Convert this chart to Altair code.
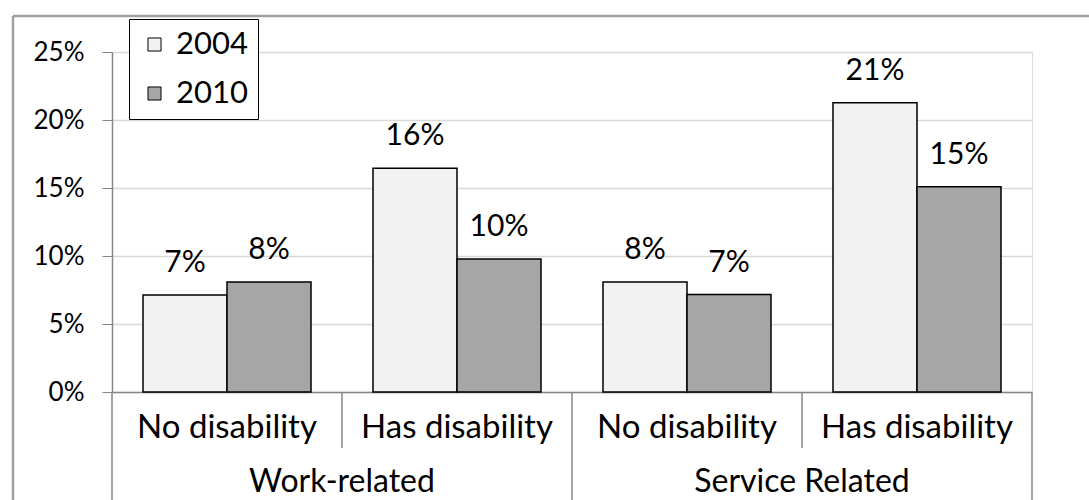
import altair as alt
import pandas as pd

groups = ["Work-related", "Work-related", "Service Related", "Service Related"]
subcats = ["No disability", "Has disability", "No disability", "Has disability"]
years = ["2004", "2010"]
v2004 = [0.0713, 0.1645, 0.0809, 0.2126]
v2010 = [0.0809, 0.0978, 0.0716, 0.1510]
colors = ["#f2f2f2", "#a6a6a6"]
y_ticks = [0, 0.05, 0.10, 0.15, 0.20, 0.25]

keys = [g + "|" + s for g, s in zip(groups, subcats)]

rows = []
for k, g, s, a, b in zip(keys, groups, subcats, v2004, v2010):
    rows.append({"key": k, "group": g, "sub": s, "year": years[0], "value": a})
    rows.append({"key": k, "group": g, "sub": s, "year": years[1], "value": b})
df = pd.DataFrame(rows)

cats = pd.DataFrame({"key": keys, "group": groups, "sub": subcats})
cats["first"] = [i == 0 or groups[i] != groups[i - 1] for i in range(len(groups))]
cats["last"] = [i == len(groups) - 1 for i in range(len(groups))]

W, H = 920, 340
FONT = "Lato"
GRAY = "#868686"

xaxis = alt.Axis(labels=False, ticks=False, title=None, domain=True,
                 domainColor=GRAY, domainWidth=1.5, grid=False)
xscale = alt.Scale(domain=keys, paddingInner=0, paddingOuter=0)


def xenc(band=None):
    if band is None:
        return alt.X("key:N", scale=xscale, axis=xaxis, sort=keys)
    return alt.X("key:N", scale=xscale, axis=xaxis, sort=keys, bandPosition=band)


xoff = alt.XOffset("year:N", scale=alt.Scale(domain=years, paddingOuter=0.369, paddingInner=0))
yenc = alt.Y("value:Q",
             scale=alt.Scale(domain=[0, 0.25], nice=False),
             axis=alt.Axis(values=y_ticks, format=".0%", title=None,
                           labelFont=FONT, labelFontSize=26, labelColor="black",
                           labelPadding=18, tickSize=10, tickColor=GRAY,
                           domainColor=GRAY, domainWidth=1.5,
                           gridColor="#d9d9d9", gridWidth=1.5))

bars = alt.Chart(df).mark_bar(stroke="black", strokeWidth=1.5).encode(
    x=xenc(),
    xOffset=xoff,
    y=yenc,
    color=alt.Color("year:N",
                    scale=alt.Scale(domain=years, range=colors),
                    legend=alt.Legend(
                        title=None, orient="none", legendX=17, legendY=-33,
                        fillColor="white", strokeColor="black",
                        padding=10, symbolType="square", symbolSize=170,
                        symbolStrokeColor="black", symbolStrokeWidth=1,
                        symbolOffset=0, labelOffset=6,
                        labelFont=FONT, labelFontSize=31, labelColor="black",
                        rowPadding=17)),
)

vals = alt.Chart(df).mark_text(font=FONT, fontSize=30, color="black",
                               baseline="alphabetic", dy=-23).encode(
    x=xenc(), xOffset=xoff, y=alt.Y("value:Q"),
    text=alt.Text("value:Q", format=".0%"),
)

sub_labels = alt.Chart(cats).mark_text(font=FONT, fontSize=33, color="black",
                                       baseline="alphabetic").encode(
    x=xenc(), y=alt.value(386), text="sub:N",
)

group_labels = alt.Chart(cats).transform_filter("!datum.first").mark_text(
    font=FONT, fontSize=32, color="black", baseline="alphabetic").encode(
    x=xenc(0), y=alt.value(440), text="group:N",
)

long_rules = alt.Chart(cats).transform_filter("datum.first").mark_rule(
    color=GRAY, strokeWidth=1.5).encode(
    x=xenc(0), y=alt.value(H), y2=alt.value(H + 110),
)

short_rules = alt.Chart(cats).transform_filter("!datum.first").mark_rule(
    color=GRAY, strokeWidth=1.5).encode(
    x=xenc(0), y=alt.value(H), y2=alt.value(H + 56),
)

end_rule = alt.Chart(cats).transform_filter("datum.last").mark_rule(
    color=GRAY, strokeWidth=1.5).encode(
    x=xenc(1), y=alt.value(H), y2=alt.value(H + 110),
)

frame_left = alt.Chart(cats).transform_filter("datum.last").mark_rule(
    color="#a0a0a0", strokeWidth=2.5).encode(
    x=alt.value(-99), y=alt.value(-36), y2=alt.value(H + 110),
)
frame_top = alt.Chart(cats).transform_filter("datum.last").mark_rule(
    color="#a0a0a0", strokeWidth=2.5).encode(
    x=alt.value(-99), x2=alt.value(W + 80), y=alt.value(-36),
)

chart = alt.layer(
    frame_left, frame_top, bars, vals, sub_labels, group_labels,
    long_rules, short_rules, end_rule,
).properties(
    width=W, height=H,
    autosize=alt.AutoSizeParams(type="none"),
    padding={"left": 112, "top": 52, "right": 57, "bottom": 108},
).configure_view(stroke=None).configure(background="white")

chart.save("out.html", embed_options={"renderer": "svg", "actions": False})
